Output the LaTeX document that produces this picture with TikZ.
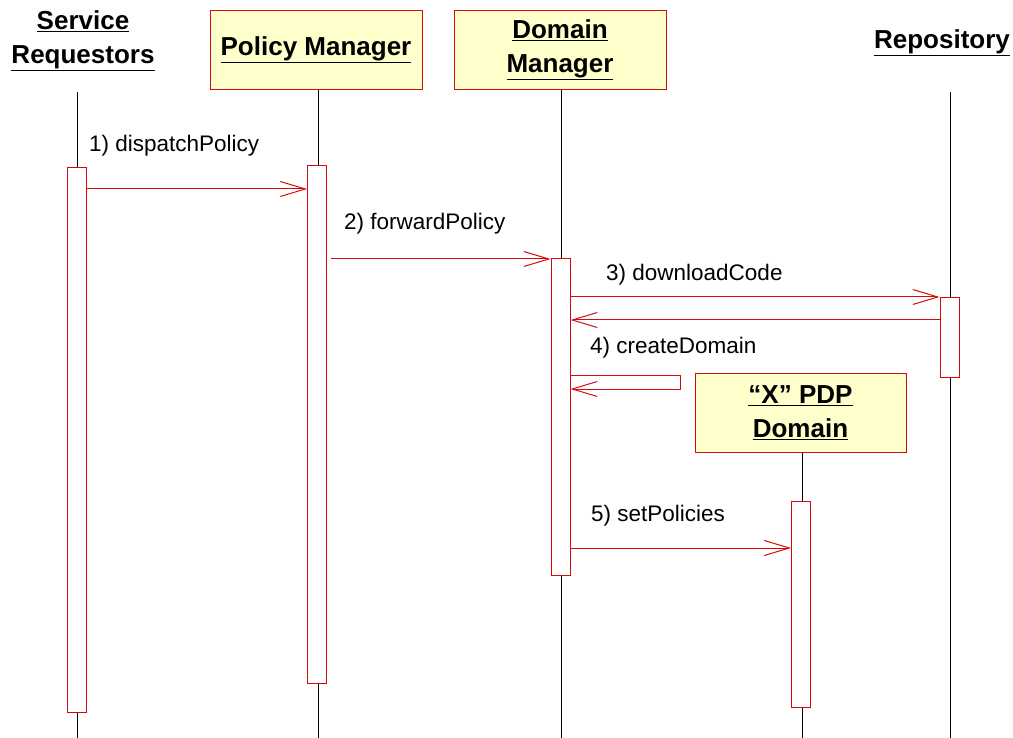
\documentclass[tikz,border=0pt]{standalone}
\usepackage{fontspec}
\setmainfont{Liberation Sans}
\usetikzlibrary{arrows.meta}
\definecolor{seqred}{RGB}{215,10,10}
\definecolor{headfill}{RGB}{255,255,204}

\begin{document}
\begin{tikzpicture}[x=1pt,y=-1pt,
  head/.style={draw=seqred, fill=headfill, align=center, minimum width=212pt, minimum height=79pt, inner sep=0pt, font=\fontsize{26}{34}\selectfont\bfseries},
  actor/.style={align=center, inner sep=0pt, font=\fontsize{26}{34}\selectfont\bfseries},
  act/.style={draw=seqred, fill=white, line width=1pt, minimum width=19pt, inner sep=0pt},
  life/.style={line width=1pt},
  msg/.style={draw=seqred, line width=1pt, -{Straight Barb[length=25pt,width=15pt]}},
  lbl/.style={anchor=base west, inner sep=0pt, font=\fontsize{22.5}{26}\selectfont}]
\useasboundingbox (0,0) rectangle (1013,738);

% lifelines
\coordinate (srTop) at (77,92);   \coordinate (srEnd) at (77,738);
\coordinate (pmTop) at (318,89);  \coordinate (pmEnd) at (318,738);
\coordinate (dmTop) at (561,89);  \coordinate (dmEnd) at (561,738);
\coordinate (rpTop) at (950,92);  \coordinate (rpEnd) at (950,738);
\coordinate (pdTop) at (802,452); \coordinate (pdEnd) at (802,738);
\draw[life] (srTop) -- (srEnd);
\draw[life] (pmTop) -- (pmEnd);
\draw[life] (dmTop) -- (dmEnd);
\draw[life] (rpTop) -- (rpEnd);
\draw[life] (pdTop) -- (pdEnd);

% objects
\node[actor] (sr) at (83,41) {\underline{Service}\\\underline{Requestors}};
\node[head] (pm) at (316,49.5) {\underline{Policy Manager}};
\node[head] (dm) at (560,49.5) {\underline{Domain}\\\underline{Manager}};
\node[actor] (rp) at (942,43) {\underline{Repository}};
\node[head, minimum width=211pt] (pd) at (800.5,412.5) {\underline{“X” PDP}\\\underline{Domain}};

% activation bars
\node[act, minimum height=544pt] (srAct) at (76.5,440) {};
\node[act, minimum height=517pt] (pmAct) at (317,424.5) {};
\node[act, minimum height=316pt] (dmAct) at (560.5,417) {};
\node[act, minimum height=79pt]  (rpAct) at (949.5,337.5) {};
\node[act, minimum height=206pt] (pdAct) at (801,604) {};

% messages
\node[lbl] (m1) at (89,152) {1) dispatchPolicy};
\draw[msg] (srAct.east |- 0,189) -- (pmAct.west |- 0,189);

\node[lbl] (m2) at (344,230) {2) forwardPolicy};
\draw[msg, shorten <=4pt] (pmAct.east |- 0,259) -- (dmAct.west |- 0,259);

\node[lbl] (m3) at (606,281) {3) downloadCode};
\draw[msg] (dmAct.east |- 0,297) -- (rpAct.west |- 0,297);
\draw[msg] (rpAct.west |- 0,320) -- (dmAct.east |- 0,320);

\node[lbl] (m4) at (590,354) {4) createDomain};
\coordinate (selfA) at (680,375);
\coordinate (selfB) at (680,389);
\draw[msg] (dmAct.east |- selfA) -- (selfA) -- (selfB) -- (dmAct.east |- selfB);

\node[lbl] (m5) at (591,521) {5) setPolicies};
\draw[msg] (dmAct.east |- 0,548) -- (pdAct.west |- 0,548);
\end{tikzpicture}
\end{document}
